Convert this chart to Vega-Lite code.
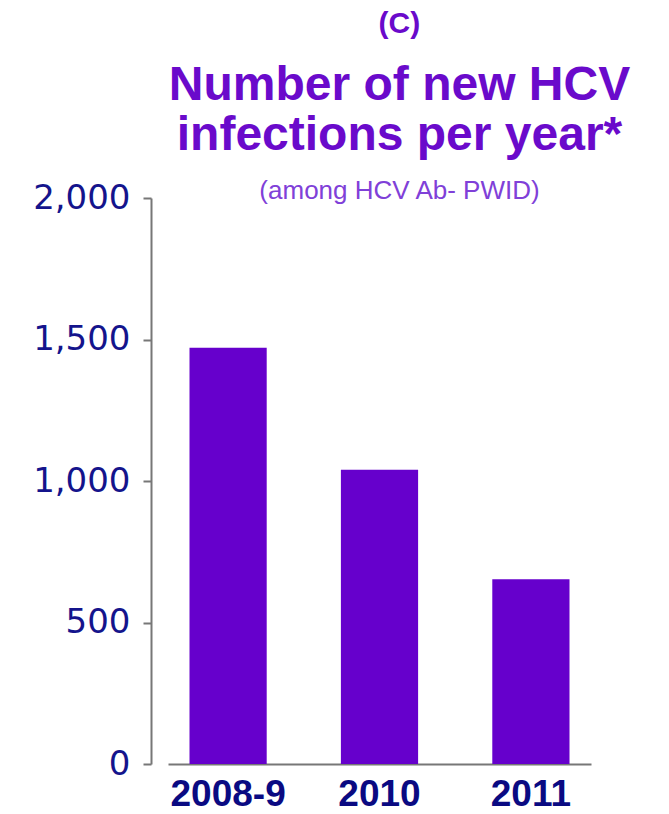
{
  "$schema": "https://vega.github.io/schema/vega-lite/v6.json",
  "background": "white",
  "padding": {"left": 32, "top": 9, "right": 5, "bottom": 0},
  "title": {
    "text": "(C)",
    "anchor": "middle",
    "font": "Liberation Sans",
    "fontSize": 30,
    "fontWeight": "bold",
    "color": "#6A0ACB",
    "dx": 68,
    "offset": 23
  },
  "config": {"view": {"stroke": null}},
  "vconcat": [
    {
      "width": 423,
      "height": 566,
      "title": {
        "text": ["Number of new HCV", "infections per year*"],
        "subtitle": "(among HCV Ab- PWID)",
        "anchor": "middle",
        "font": "Liberation Sans",
        "fontSize": 48,
        "fontWeight": "bold",
        "lineHeight": 50,
        "color": "#6A0ACB",
        "subtitleFont": "Liberation Sans",
        "subtitleFontSize": 26,
        "subtitleColor": "#8040D8",
        "subtitlePadding": 18,
        "offset": -23,
        "dx": 20
      },
      "data": {
        "values": [
          {"period": "2008-9", "infections": 1471},
          {"period": "2010", "infections": 1040},
          {"period": "2011", "infections": 653}
        ]
      },
      "mark": {"type": "bar", "color": "#6600CC"},
      "encoding": {
        "x": {
          "field": "period",
          "type": "nominal",
          "sort": null,
          "scale": {"paddingInner": 0.49, "paddingOuter": 0.142},
          "axis": {
            "title": null,
            "labelAngle": 0,
            "labelFont": "Liberation Sans",
            "labelFontSize": 37,
            "labelFontWeight": "bold",
            "labelColor": "#0A0A82",
            "labelPadding": 12,
            "ticks": false,
            "domainColor": "#777777",
            "domainWidth": 2
          }
        },
        "y": {
          "field": "infections",
          "type": "quantitative",
          "scale": {"domain": [0, 2000], "nice": false},
          "axis": {
            "title": null,
            "values": [0, 500, 1000, 1500, 2000],
            "format": ",.0f",
            "grid": false,
            "offset": 17,
            "labelFont": "DejaVu Sans",
            "labelFontSize": 34,
            "labelColor": "#14148C",
            "labelPadding": 13,
            "tickSize": 8,
            "tickColor": "#777777",
            "tickWidth": 2,
            "domainColor": "#777777",
            "domainWidth": 2
          }
        }
      }
    }
  ]
}
